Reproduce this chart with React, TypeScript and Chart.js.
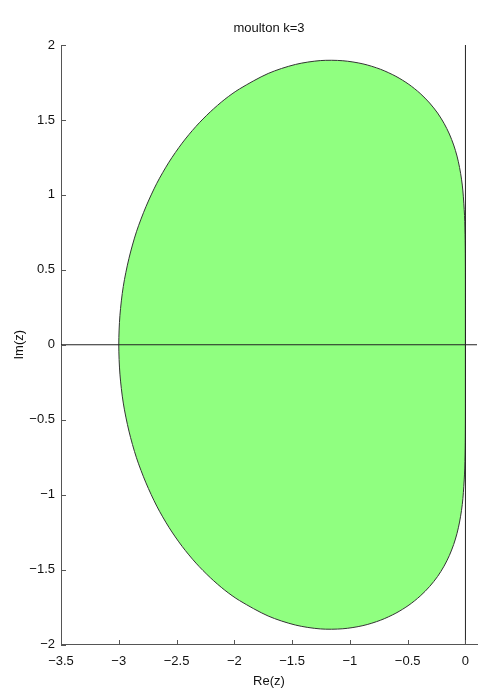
import { useEffect, useRef } from "react";
import { Chart, registerables } from "chart.js";

Chart.register(...registerables);

const titleText = "moulton k=3";
const xAxisLabel = "Re(z)";
const yAxisLabel = "Im(z)";

const xTickValues = [-3.5, -3, -2.5, -2, -1.5, -1, -0.5, 0];
const yTickValues = [-2, -1.5, -1, -0.5, 0, 0.5, 1, 1.5, 2];
const xLimits = [-3.5, 0.1];
const yLimits = [-2, 2];

// Boundary of the stability region, upper half: from the origin round to -3
const upperRe = [
  0, 0, 0, -0.0003, -0.002, -0.008, -0.022, -0.034, -0.051, -0.073, -0.102,
  -0.139, -0.185, -0.241, -0.31, -0.392, -0.489, -0.602, -0.735, -0.887,
  -1.061, -1.256, -1.472, -1.707, -1.955, -2.082, -2.208, -2.332, -2.452,
  -2.566, -2.671, -2.765, -2.847, -2.912, -2.961, -2.99, -3,
];
const upperIm = [
  0, 0.175, 0.349, 0.524, 0.695, 0.863, 1.026, 1.105, 1.183, 1.259, 1.333,
  1.406, 1.477, 1.546, 1.613, 1.677, 1.737, 1.791, 1.838, 1.874, 1.895, 1.896,
  1.87, 1.81, 1.707, 1.638, 1.554, 1.457, 1.345, 1.218, 1.077, 0.921, 0.754,
  0.576, 0.389, 0.196, 0,
];

// Lower half: from -3 back to the origin
const lowerRe = [
  -2.99, -2.961, -2.912, -2.847, -2.765, -2.671, -2.566, -2.452, -2.332,
  -2.208, -2.082, -1.955, -1.707, -1.472, -1.256, -1.061, -0.887, -0.735,
  -0.602, -0.489, -0.392, -0.31, -0.241, -0.185, -0.139, -0.102, -0.073,
  -0.051, -0.034, -0.022, -0.008, -0.002, -0.0003, 0, 0, 0,
];
const lowerIm = [
  -0.196, -0.389, -0.576, -0.754, -0.921, -1.077, -1.218, -1.345, -1.457,
  -1.554, -1.638, -1.707, -1.81, -1.87, -1.896, -1.895, -1.874, -1.838,
  -1.791, -1.737, -1.677, -1.613, -1.546, -1.477, -1.406, -1.333, -1.259,
  -1.183, -1.105, -1.026, -0.863, -0.695, -0.524, -0.349, -0.175, 0,
];

// Coordinate axes drawn through the plot
const realAxisRe = [-3.5, 0.1];
const realAxisIm = [0, 0];
const imagAxisRe = [0, 0];
const imagAxisIm = [-2, 2];

const toPoints = (re: number[], im: number[]) =>
  re.map((x, i) => ({ x, y: im[i] }));

const fmt = (v: number) => String(v).replace("-", "\u2212");

const FONT = "'Liberation Sans', Arial, Helvetica, sans-serif";
const AXIS_COLOR = "#555";
const TEXT_COLOR = "#111";

// MATLAB-style tick marks pointing into the axes
const inwardTicks = {
  id: "inwardTicks",
  afterDatasetsDraw(chart: any) {
    const { ctx, chartArea } = chart;
    const xs = chart.scales.x;
    const ys = chart.scales.y;
    ctx.save();
    ctx.strokeStyle = AXIS_COLOR;
    ctx.lineWidth = 1;
    ctx.beginPath();
    const bottom = Math.round(chartArea.bottom);
    const left = Math.round(chartArea.left);
    for (const v of xTickValues) {
      const px = Math.round(xs.getPixelForValue(v)) + 0.5;
      ctx.moveTo(px, bottom);
      ctx.lineTo(px, bottom - 5);
    }
    for (const v of yTickValues) {
      const py = Math.round(ys.getPixelForValue(v)) + 0.5;
      ctx.moveTo(left, py);
      ctx.lineTo(left + 5, py);
    }
    ctx.stroke();
    ctx.restore();
  },
};

// Title centred over the axes
const axesTitle = {
  id: "axesTitle",
  afterDraw(chart: any) {
    const { ctx, chartArea } = chart;
    ctx.save();
    ctx.font = `13px ${FONT}`;
    ctx.fillStyle = TEXT_COLOR;
    ctx.textAlign = "center";
    ctx.textBaseline = "middle";
    ctx.fillText(titleText, (chartArea.left + chartArea.right) / 2, 28);
    ctx.restore();
  },
};

export default function App() {
  const canvasRef = useRef<HTMLCanvasElement | null>(null);

  useEffect(() => {
    const canvas = canvasRef.current;
    if (!canvas) return;
    const chart = new Chart(canvas, {
      type: "scatter",
      data: {
        datasets: [
          {
            data: toPoints(realAxisRe, realAxisIm),
            showLine: true,
            borderColor: "#222",
            borderWidth: 1,
            pointRadius: 0,
            fill: false,
            order: 1,
          },
          {
            data: toPoints(imagAxisRe, imagAxisIm),
            showLine: true,
            borderColor: "#222",
            borderWidth: 1,
            pointRadius: 0,
            fill: false,
            order: 1,
          },
          {
            data: toPoints(
              [...upperRe, ...lowerRe],
              [...upperIm, ...lowerIm]
            ),
            showLine: true,
            borderColor: "#333",
            borderWidth: 1,
            backgroundColor: "rgb(144,255,128)",
            pointRadius: 0,
            tension: 0.3,
            fill: "shape",
            order: 2,
          },
        ],
      },
      options: {
        animation: false,
        responsive: false,
        devicePixelRatio: 1,
        layout: { padding: { top: 45, right: 7, left: 0, bottom: 0 } },
        plugins: {
          legend: { display: false },
          tooltip: { enabled: false },
          title: { display: false },
        },
        scales: {
          x: {
            type: "linear",
            min: xLimits[0],
            max: xLimits[1],
            afterFit: (s: any) => {
              s.height = 53.5;
            },
            afterBuildTicks: (s: any) => {
              s.ticks = xTickValues.map((value) => ({ value }));
            },
            grid: { display: false, drawTicks: false },
            border: { display: true, color: AXIS_COLOR, width: 1 },
            ticks: {
              padding: 9,
              color: TEXT_COLOR,
              font: { family: FONT, size: 13 },
              maxRotation: 0,
              autoSkip: false,
              callback: (v: any) => fmt(Number(v)),
            },
            title: {
              display: true,
              text: xAxisLabel,
              color: TEXT_COLOR,
              font: { family: FONT, size: 13 },
              padding: { top: 0, bottom: 8.5 },
            },
          },
          y: {
            type: "linear",
            min: yLimits[0],
            max: yLimits[1],
            afterFit: (s: any) => {
              s.width = 61;
            },
            afterBuildTicks: (s: any) => {
              s.ticks = yTickValues.map((value) => ({ value }));
            },
            grid: { display: false, drawTicks: false },
            border: { display: true, color: AXIS_COLOR, width: 1 },
            ticks: {
              padding: 6,
              color: TEXT_COLOR,
              font: { family: FONT, size: 13 },
              autoSkip: false,
              callback: (v: any) => fmt(Number(v)),
            },
            title: {
              display: true,
              text: yAxisLabel,
              color: TEXT_COLOR,
              font: { family: FONT, size: 13 },
              padding: { top: 12, bottom: 0 },
            },
          },
        },
      },
      plugins: [inwardTicks, axesTitle],
    });
    return () => chart.destroy();
  }, []);

  return (
    <div
      style={{
        position: "absolute",
        left: 0,
        top: 0,
        width: 484,
        height: 698,
        background: "#fff",
      }}
    >
      <canvas ref={canvasRef} width={484} height={698} />
    </div>
  );
}
